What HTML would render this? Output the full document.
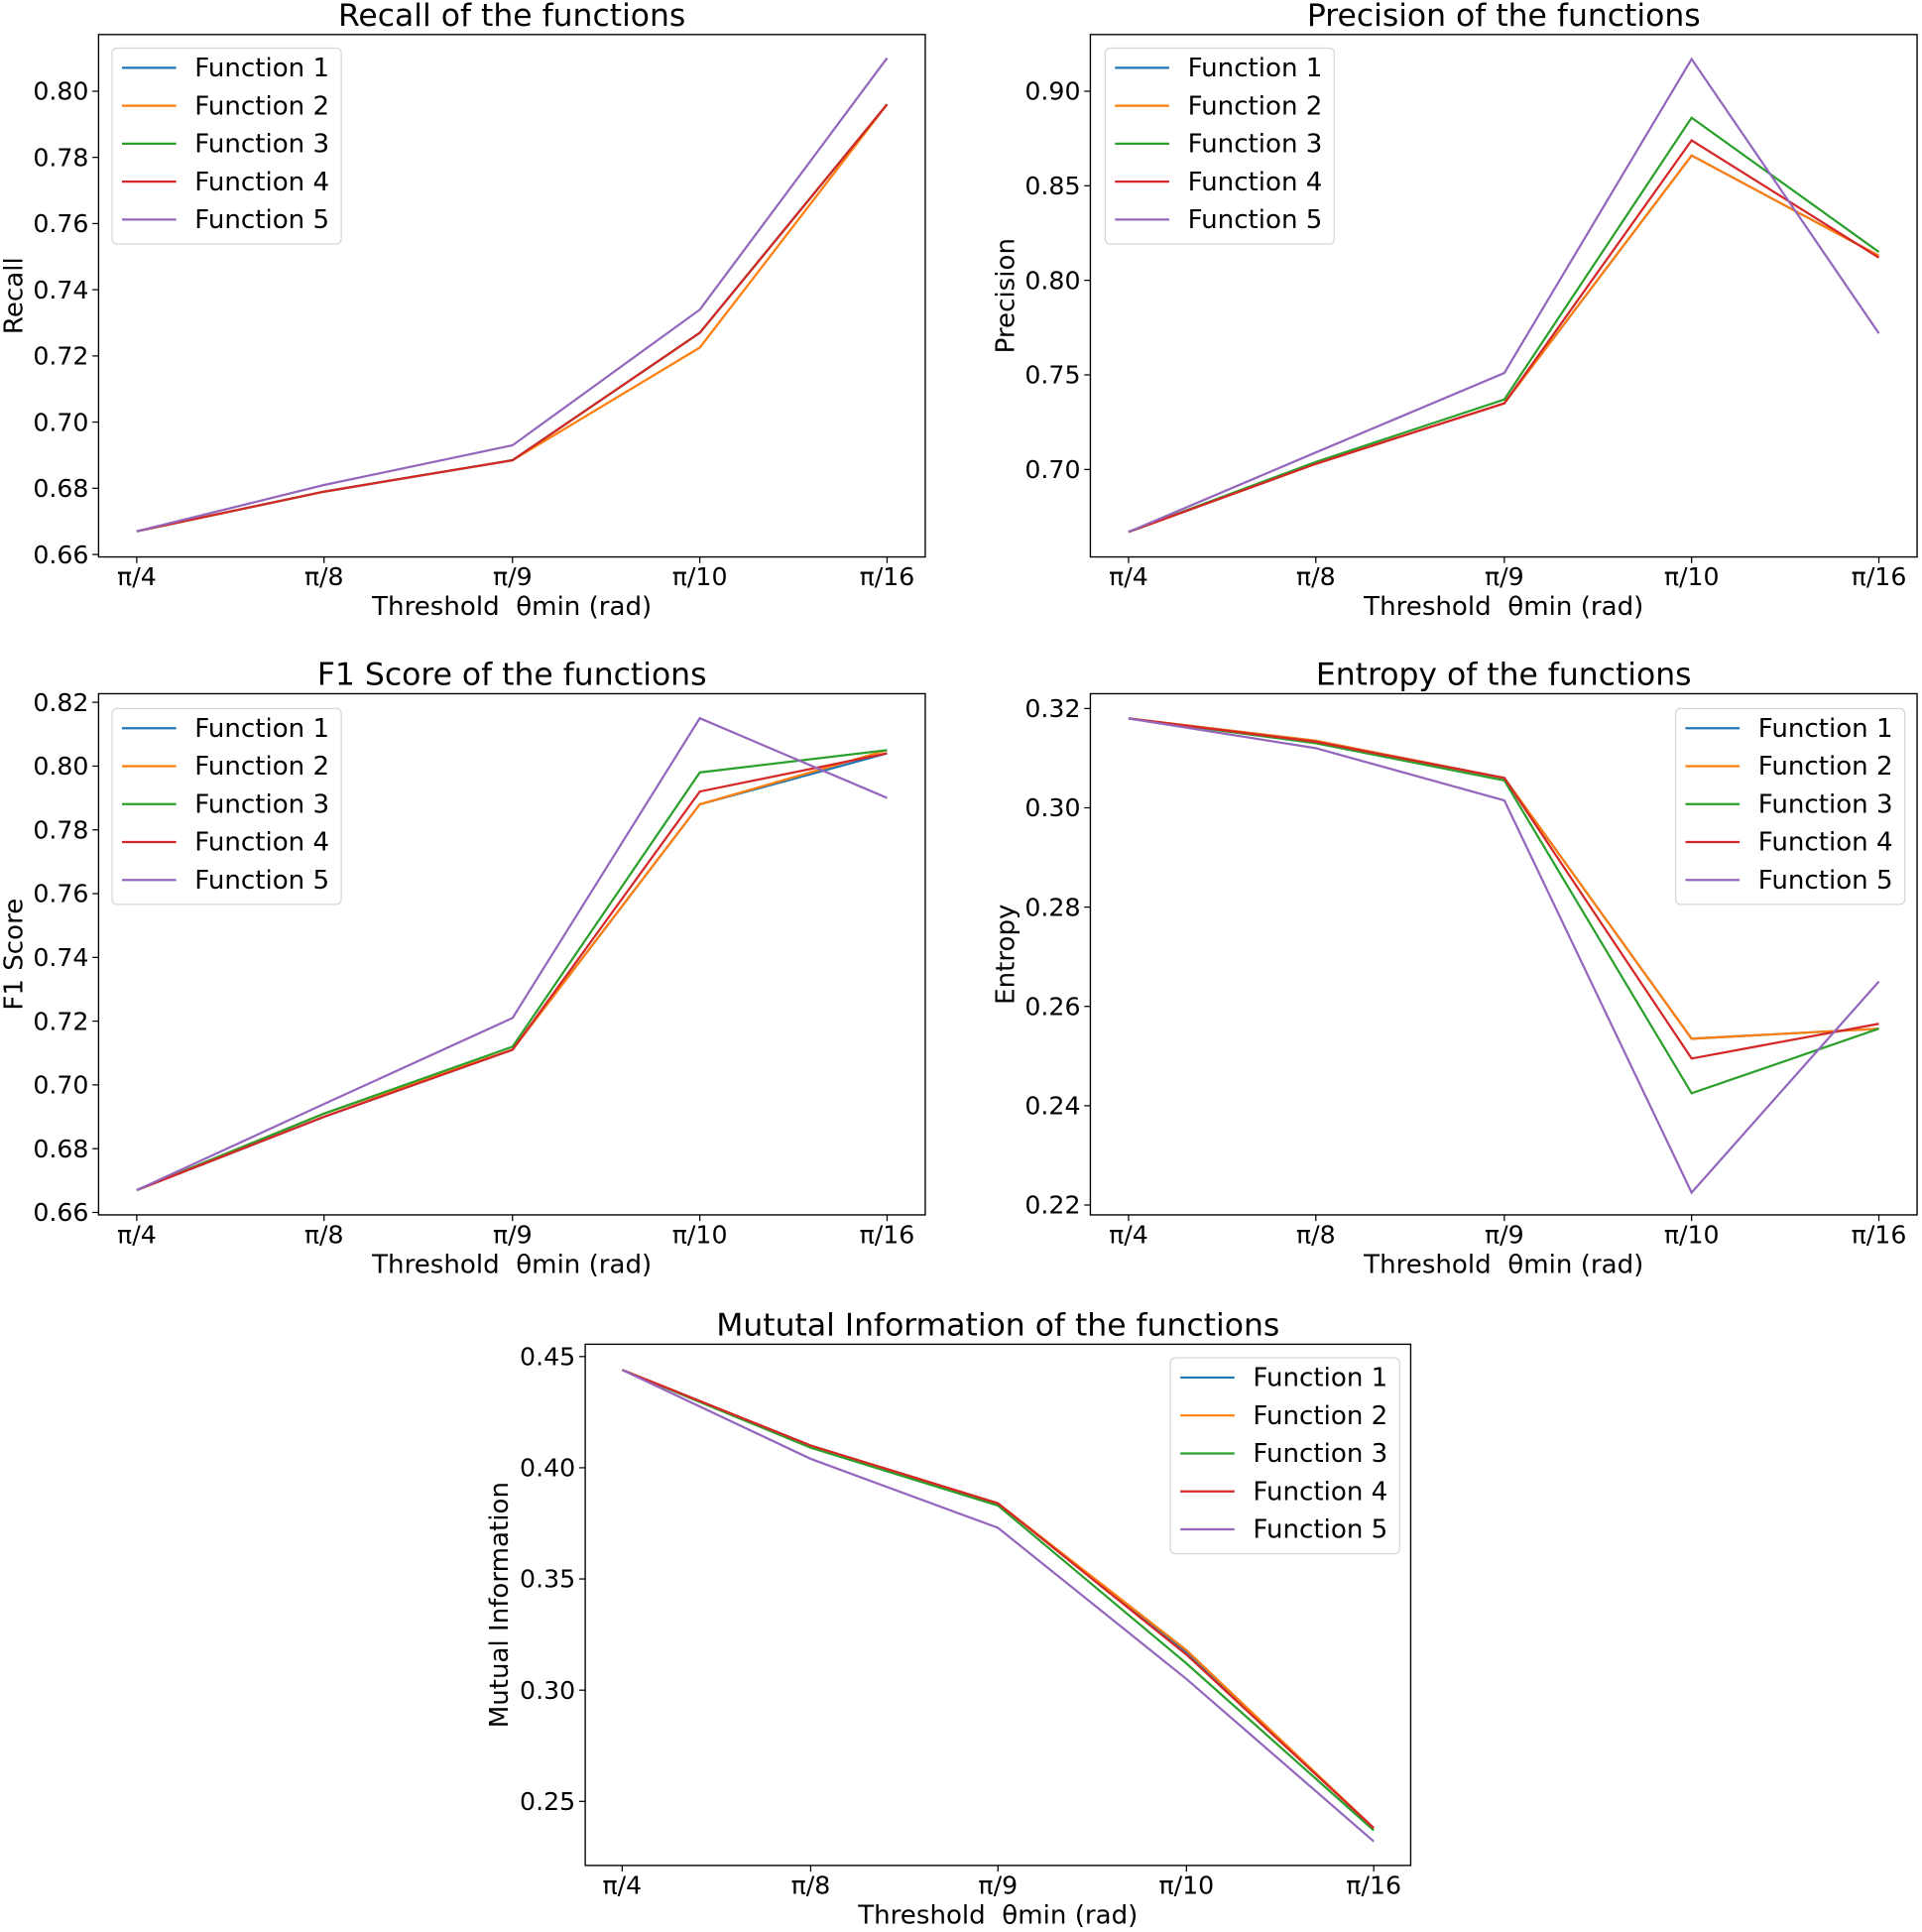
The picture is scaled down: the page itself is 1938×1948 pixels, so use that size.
<!DOCTYPE html>
<html><head><meta charset="utf-8"><style>
html,body{margin:0;padding:0;background:#fff;}
svg{display:block;font-family:"DejaVu Sans","Liberation Sans",sans-serif;}
</style></head><body>
<svg id="s" width="1938" height="1948" viewBox="0 0 1560 1568" xmlns="http://www.w3.org/2000/svg"></svg>
<script>
const C=['#1f77b4','#ff7f0e','#2ca02c','#d62728','#9467bd'];
const XL=['π/4','π/8','π/9','π/10','π/16'];
let out='';
function panel(p){
  const {x0,x1,y0,y1,xt,ymap,yticks,title,ylab,data,leg}=p;
  let s='';
  data.forEach((d,i)=>{
    const pts=d.map((v,j)=>xt[j]+','+ymap(v).toFixed(1)).join(' ');
    s+=`<polyline points="${pts}" fill="none" stroke="${C[i]}" stroke-width="1.8"/>`;
  });
  s+=`<rect x="${x0}" y="${y0}" width="${x1-x0}" height="${y1-y0}" fill="none" stroke="#000" stroke-width="1.1"/>`;
  xt.forEach((x,j)=>{
    s+=`<line x1="${x}" y1="${y1}" x2="${x}" y2="${y1+5}" stroke="#000"/>`;
    s+=`<text x="${x}" y="${y1+23}" font-size="20.3" text-anchor="middle">${XL[j]}</text>`;
  });
  yticks.forEach(v=>{
    const y=ymap(v);
    s+=`<line x1="${x0-5}" y1="${y}" x2="${x0}" y2="${y}" stroke="#000"/>`;
    s+=`<text x="${x0-8}" y="${y+7}" font-size="20.3" text-anchor="end">${v.toFixed(2)}</text>`;
  });
  const cx=(x0+x1)/2;
  s+=`<text x="${cx}" y="${y0-7}" font-size="25.3" text-anchor="middle">${title}</text>`;
  s+=`<text x="${cx}" y="${y1+47}" font-size="21" text-anchor="middle" xml:space="preserve">Threshold  θmin (rad)</text>`;
  const ly=(y0+y1)/2;
  s+=`<text transform="translate(${p.ylx},${ly}) rotate(-90)" font-size="21" text-anchor="middle">${ylab}</text>`;
  const [lx,lt]=leg;
  s+=`<rect x="${lx}" y="${lt}" width="186" height="159" rx="4" fill="#fff" fill-opacity="0.85" stroke="#d6d6d6"/>`;
  for(let i=0;i<5;i++){
    const yy=lt+16+i*30.8;
    s+=`<line x1="${lx+8}" y1="${yy}" x2="${lx+52}" y2="${yy}" stroke="${C[i]}" stroke-width="1.8"/>`;
    s+=`<text x="${lx+67}" y="${yy+7}" font-size="21">Function ${i+1}</text>`;
  }
  out+=s;
}
const xtL=[111,263,416,568,720], xtR=[916,1068,1221,1373,1525], xtM=[505,658,810,963,1115];
function lin(v1,y1,v2,y2){return v=>y1+(v-v1)*(y2-y1)/(v2-v1);}
panel({x0:80,x1:751,y0:28,y1:452,xt:xtL,ymap:lin(0.66,450,0.80,74),
 yticks:[0.66,0.68,0.70,0.72,0.74,0.76,0.78,0.80],title:'Recall of the functions',ylab:'Recall',ylx:18,
 data:[[0.667,0.679,0.6885,0.727,0.796],[0.667,0.679,0.6885,0.7225,0.796],[0.667,0.679,0.6885,0.727,0.796],[0.667,0.679,0.6885,0.727,0.796],[0.667,0.681,0.693,0.734,0.810]],
 leg:[91,39]});
panel({x0:885,x1:1556,y0:28,y1:452,xt:xtR,ymap:lin(0.70,381,0.90,74),
 yticks:[0.70,0.75,0.80,0.85,0.90],title:'Precision of the functions',ylab:'Precision',ylx:823,
 data:[[0.667,0.703,0.735,0.866,0.813],[0.667,0.703,0.735,0.866,0.813],[0.667,0.704,0.737,0.886,0.815],[0.667,0.703,0.735,0.874,0.812],[0.667,0.709,0.751,0.917,0.772]],
 leg:[897,39]});
panel({x0:80,x1:751,y0:563,y1:986,xt:xtL,ymap:lin(0.66,984,0.82,570),
 yticks:[0.66,0.68,0.70,0.72,0.74,0.76,0.78,0.80,0.82],title:'F1 Score of the functions',ylab:'F1 Score',ylx:18,
 data:[[0.667,0.690,0.711,0.788,0.804],[0.667,0.691,0.711,0.788,0.805],[0.667,0.691,0.712,0.798,0.805],[0.667,0.690,0.711,0.792,0.804],[0.667,0.694,0.721,0.815,0.790]],
 leg:[91,575]});
panel({x0:885,x1:1556,y0:563,y1:986,xt:xtR,ymap:lin(0.22,978,0.32,575),
 yticks:[0.22,0.24,0.26,0.28,0.30,0.32],title:'Entropy of the functions',ylab:'Entropy',ylx:823,
 data:[[0.318,0.3135,0.306,0.2535,0.2555],[0.318,0.3135,0.306,0.2535,0.2555],[0.318,0.313,0.3055,0.2425,0.2555],[0.318,0.3133,0.306,0.2495,0.2565],[0.318,0.312,0.3015,0.2225,0.265]],
 leg:[1360,575]});
panel({x0:475,x1:1145,y0:1091,y1:1514,xt:xtM,ymap:lin(0.25,1462,0.45,1101),
 yticks:[0.25,0.30,0.35,0.40,0.45],title:'Mututal Information of the functions',ylab:'Mutual Information',ylx:412,
 data:[[0.444,0.410,0.384,0.317,0.238],[0.444,0.410,0.384,0.318,0.238],[0.444,0.409,0.383,0.312,0.237],[0.444,0.410,0.384,0.316,0.238],[0.444,0.404,0.373,0.305,0.232]],
 leg:[950,1102]});
document.getElementById('s').innerHTML=out;
</script>
</body></html>
